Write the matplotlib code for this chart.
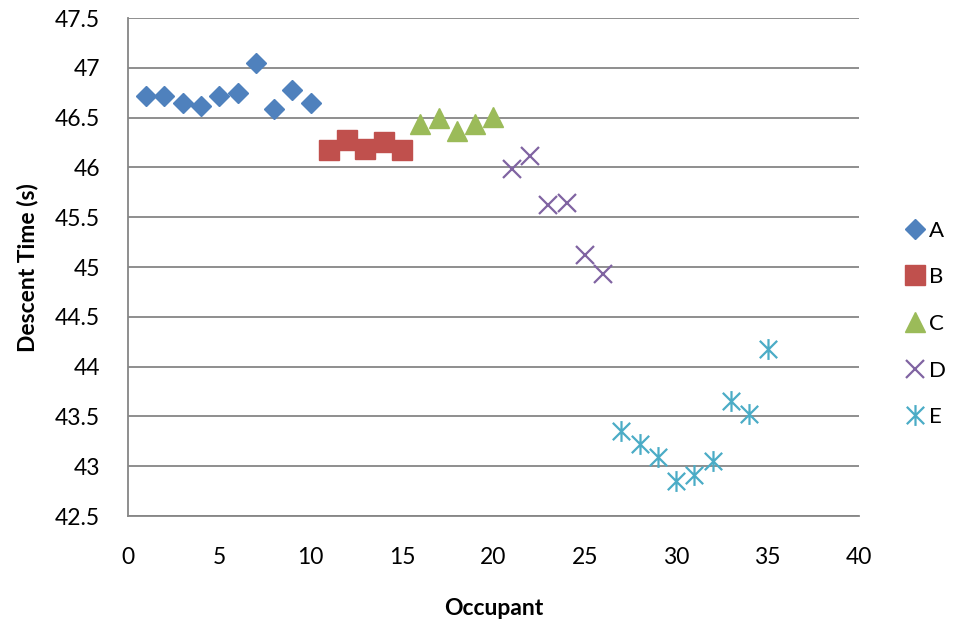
import matplotlib
matplotlib.use("Agg")
import matplotlib.pyplot as plt
from matplotlib.path import Path
from matplotlib.ticker import FuncFormatter

plt.rcParams['font.family'] = ['Lato', 'DejaVu Sans']

# data
occ_a = [1, 2, 3, 4, 5, 6, 7, 8, 9, 10]
time_a = [46.72, 46.72, 46.65, 46.62, 46.72, 46.75, 47.05, 46.59, 46.78, 46.65]
occ_b = [11, 12, 13, 14, 15]
time_b = [46.18, 46.28, 46.19, 46.26, 46.18]
occ_c = [16, 17, 18, 19, 20]
time_c = [46.44, 46.50, 46.37, 46.44, 46.51]
occ_d = [21, 22, 23, 24, 25, 26]
time_d = [45.98, 46.12, 45.62, 45.64, 45.12, 44.93]
occ_e = [27, 28, 29, 30, 31, 32, 33, 34, 35]
time_e = [43.35, 43.22, 43.09, 42.85, 42.91, 43.05, 43.66, 43.52, 44.18]

# Excel style asterisk: x plus a vertical bar
star = Path([(-1, -1), (1, 1), (-1, 1), (1, -1), (0, -1.2), (0, 1.2)],
            [Path.MOVETO, Path.LINETO, Path.MOVETO, Path.LINETO, Path.MOVETO, Path.LINETO])

fig = plt.figure(figsize=(9.54, 6.24), dpi=100)
ax = fig.add_axes([0.134, 0.173, 0.7664, 0.798])

ax.plot(occ_a, time_a, linestyle="none", marker="D", ms=10.5, color="#4F81BD", label="A")
ax.plot(occ_b, time_b, linestyle="none", marker="s", ms=14, color="#C0504D", label="B")
ax.plot(occ_c, time_c, linestyle="none", marker="^", ms=14, color="#9BBB59", label="C")
ax.plot(occ_d, time_d, linestyle="none", marker="x", ms=13, mew=1.6, color="#8064A2", label="D")
ax.plot(occ_e, time_e, linestyle="none", marker=star, ms=15, mew=1.6, color="#4BACC6", label="E")

ax.set_xlim(0, 40)
ax.set_ylim(42.5, 47.5)
ax.set_xticks(range(0, 41, 5))
ax.set_yticks([42.5 + 0.5 * i for i in range(11)])
ax.yaxis.set_major_formatter(FuncFormatter(lambda v, p: f"{v:g}"))
ax.grid(axis="y", color="#868686", linewidth=1.3)
ax.set_axisbelow(True)
ax.tick_params(length=0, labelsize=16.5)
ax.tick_params(axis="y", pad=20)
ax.tick_params(axis="x", pad=22)
for s in ["top", "right"]:
    ax.spines[s].set_visible(False)
for s in ["left", "bottom"]:
    ax.spines[s].set_color("#868686")
    ax.spines[s].set_linewidth(1.3)

ax.set_xlabel("Occupant", fontsize=16.5, fontweight="bold", labelpad=22)
ax.set_ylabel("Descent Time (s)", fontsize=16.5, fontweight="bold", labelpad=12)

ax.legend(loc="center left", bbox_to_anchor=(1.031, 0.386), frameon=False,
          fontsize=16, labelspacing=1.2, handletextpad=0.05, handlelength=1.2)

fig.savefig("out.png", dpi=100)
